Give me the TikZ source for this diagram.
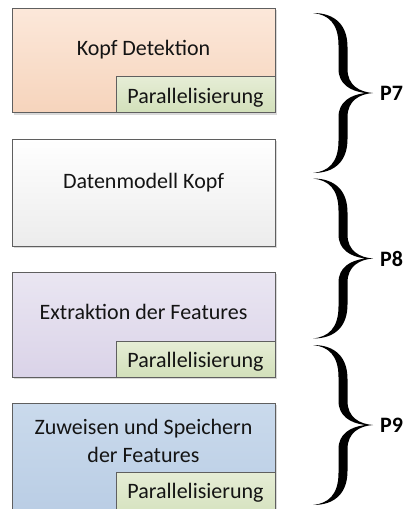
\documentclass[tikz,border=0pt]{standalone}
\usepackage{fontspec}
\setmainfont{Carlito}
\usetikzlibrary{shadows}
\definecolor{bordc}{RGB}{95,95,95}
\definecolor{txtc}{RGB}{20,20,20}
\definecolor{orT}{RGB}{252,232,218}
\definecolor{orB}{RGB}{246,212,188}
\definecolor{whT}{RGB}{255,255,255}
\definecolor{whB}{RGB}{236,236,236}
\definecolor{puT}{RGB}{234,230,242}
\definecolor{puB}{RGB}{218,211,232}
\definecolor{blT}{RGB}{202,218,236}
\definecolor{blB}{RGB}{184,204,228}
\definecolor{grT}{RGB}{230,237,214}
\definecolor{grB}{RGB}{210,224,186}
\begin{document}
\begin{tikzpicture}[x=1pt,y=-1pt,
  bigbox/.style={draw=bordc, line width=0.8pt, inner sep=0pt, outer sep=0pt,
    anchor=north west, minimum width=263pt,
    drop shadow={shadow xshift=2pt, shadow yshift=-2pt, fill=black, opacity=0.15}},
  parbox/.style={draw=bordc, line width=0.8pt, inner sep=0pt, outer sep=0pt,
    anchor=north west, minimum width=159pt, top color=grT, bottom color=grB},
  txt/.style={font=\fontsize{22}{27}\selectfont, inner sep=0pt, anchor=base, text=txtc},
  lbl/.style={font=\fontsize{22}{27}\selectfont\bfseries, inner sep=0pt, anchor=west, text=black},
  brc/.pic={\fill[black] (0,0) .. controls (22,0) and (34.5,12) .. (34.5,34)
      -- (34.5,56) .. controls (34.5,72) and (46,79) .. (60,80)
      .. controls (46,81) and (34.5,88) .. (34.5,104)
      -- (34.5,126) .. controls (34.5,148) and (22,160) .. (0,160)
      .. controls (15,158.5) and (25.5,150) .. (25.5,128)
      -- (25.5,104) .. controls (25.5,89) and (37,82) .. (52,80)
      .. controls (37,78) and (25.5,71) .. (25.5,56)
      -- (25.5,32) .. controls (25.5,10) and (15,1.5) .. (0,0) -- cycle;}
]
\clip (0,0) rectangle (409,509);
\fill[white] (0,0) rectangle (409,509);

% boxes
\node[bigbox, minimum height=104.5pt, top color=orT, bottom color=orB] (b1) at (12,8) {};
\node[parbox, minimum height=36pt] (p1) at (116,76.5) {};
\node[txt] (t1) at (143.5,55) {Kopf Detektion};
\node[txt] (t1p) at (195.5,103) {Parallelisierung};

\node[bigbox, minimum height=107pt, top color=whT, bottom color=whB] (b2) at (12,139) {};
\node[txt] (t2) at (143.5,188) {Datenmodell Kopf};

\node[bigbox, minimum height=105pt, top color=puT, bottom color=puB] (b3) at (12,272) {};
\node[parbox, minimum height=36pt] (p3) at (116,341) {};
\node[txt] (t3) at (143.5,319) {Extraktion der Features};
\node[txt] (t3p) at (195.5,367) {Parallelisierung};

\node[bigbox, minimum height=120pt, top color=blT, bottom color=blB] (b4) at (12,403) {};
\node[parbox, minimum height=50pt] (p4) at (116,472) {};
\node[txt] (t4a) at (143.5,434) {Zuweisen und Speichern};
\node[txt] (t4b) at (143.5,462) {der Features};
\node[txt] (t4p) at (195.5,498) {Parallelisierung};

% braces
\pic at (313,13) {brc};
\pic at (313,178.5) {brc};
\pic at (313,345) {brc};
\coordinate (k7) at (373,93);
\coordinate (k8) at (373,258.5);
\coordinate (k9) at (373,425);
\node[lbl] (l7) at ([xshift=7pt]k7) {P7};
\node[lbl] (l8) at ([xshift=7pt]k8) {P8};
\node[lbl] (l9) at ([xshift=7pt]k9) {P9};
\end{tikzpicture}
\end{document}
